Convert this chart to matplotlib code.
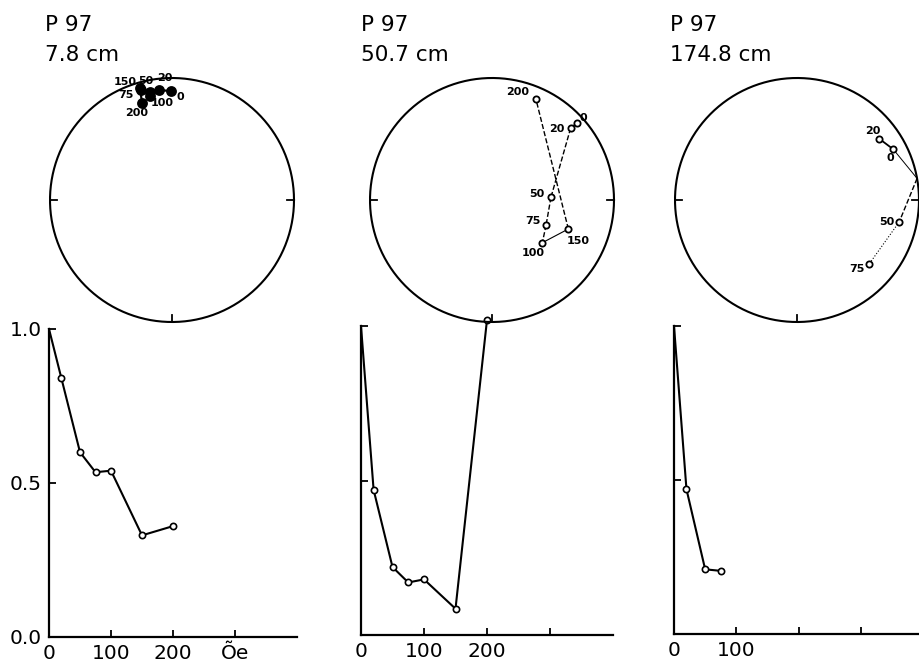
import numpy as np
import matplotlib
matplotlib.use("Agg")
import matplotlib.pyplot as plt

plt.rcParams['font.family'] = ['DejaVu Sans']

# ---- data -------------------------------------------------------------
core_name = "P 97"
depths = ["7.8 cm", "50.7 cm", "174.8 cm"]

# demagnetisation steps (Oe) and normalised intensity J/J0
fields_1 = [0, 20, 50, 75, 100, 150, 200]
inten_1 = [1.0, 0.84, 0.60, 0.535, 0.54, 0.33, 0.36]
fields_2 = [0, 20, 50, 75, 100, 150, 200]
inten_2 = [1.0, 0.47, 0.22, 0.17, 0.18, 0.085, 1.02]
fields_3 = [0, 20, 50, 75]
inten_3 = [1.0, 0.47, 0.21, 0.205]

# stereonet directions along the plotted path (declination, inclination in deg)
# label None = vertex where the path crosses the primitive
st_labels_1 = ["0", "20", "50", "75", "100", "150", "200"]
dec_1 = [359.5, 353.2, 348.5, 344.3, 348.1, 344.1, 342.8]
inc_1 = [11.7, 10.1, 10.6, 7.0, 14.0, 5.1, 17.9]

st_labels_2 = ["0", "20", "50", "75", "100", "150", "200"]
dec_2 = [47.8, 47.6, 87.4, 114.8, 130.3, 110.8, 23.6]
inc_2 = [-7.1, -13.8, -50.0, -49.6, -45.0, -33.5, -10.9]

st_labels_3 = ["20", "0", None, "50", "75"]
dec_3 = [53.5, 62.2, 79.8, 102.1, 131.8]
inc_3 = [-17.0, -11.8, 0.0, -15.4, -22.0]

# ---- styling ----------------------------------------------------------
seg_styles = [
    ['-', '-', '-', '-', '-', '-'],
    ['-', '--', '--', '--', '-', '--'],
    ['-', '-', '--', ':'],
]
seg_widths = [
    [1.6, 1.6, 1.6, 1.6, 1.6, 1.6],
    [1.2, 1.0, 1.0, 1.0, 0.8, 1.0],
    [1.3, 0.7, 1.0, 0.8],
]
# label offsets in pixels (dx, dy) from the point
lab_off = [
    {"0": (9, -6), "20": (6, 12), "50": (-4, 11), "75": (-15, -5),
     "100": (12, -7), "150": (-15, 6), "200": (-5, -10)},
    {"0": (7, 5), "20": (-14, -1), "50": (-14, 3), "75": (-13, 4),
     "100": (-9, -10), "150": (10, -12), "200": (-18, 7)},
    {"20": (-7, 8), "0": (-3, -9), "50": (-12, 0), "75": (-12, -5)},
]

W, H = 919, 666
# stereonet centres (px) and radius
st_centres = [(172, 200), (492, 200), (797, 200)]
R = 122
# intensity plot frames: x of y-axis, px per 100 Oe, y of zero, px per unit
int_frames = [(49, 62, 637, 308), (361, 63, 635, 309), (674, 62.3, 634, 308)]
title_x = [45, 361, 670]


def schmidt(dec, inc):
    d = np.radians(dec)
    th = np.radians(90 - np.abs(inc))
    r = np.sqrt(2) * np.sin(th / 2)
    return r * np.sin(d), r * np.cos(d)


fig = plt.figure(figsize=(W / 100, H / 100), dpi=100)

stereo = [(st_labels_1, dec_1, inc_1), (st_labels_2, dec_2, inc_2),
          (st_labels_3, dec_3, inc_3)]
curves = [(fields_1, inten_1), (fields_2, inten_2), (fields_3, inten_3)]

for i in range(3):
    # ---------- intensity decay ----------
    x0, sx, y0, sy = int_frames[i]
    ax = fig.add_axes([x0 / W, (H - y0) / H, 4 * sx / W, sy / H])
    f, v = curves[i]
    ax.plot(f, v, color='black', lw=1.5, marker='o', ms=4.5, mfc='white',
            mew=1.2, markevery=list(range(1, len(f))), clip_on=False, zorder=3)
    ax.set_xlim(0, 400)
    ax.set_ylim(0, 1.0)
    for s in ['top', 'right']:
        ax.spines[s].set_visible(False)
    for s in ['left', 'bottom']:
        ax.spines[s].set_linewidth(1.6)
    ax.set_xticks([0, 100, 200, 300])
    ax.set_yticks([0, 0.5, 1.0])
    ax.tick_params(direction='in', length=5, width=1.3, labelsize=14.5, pad=5)
    if i == 0:
        ax.set_xticklabels(["0", "100", "200", "Õe"])
        ax.set_yticklabels(["0.0", "0.5", "1.0"])
    elif i == 1:
        ax.set_xticklabels(["0", "100", "200", ""])
        ax.set_yticklabels([])
    else:
        ax.set_xticklabels(["0", "100", "", ""])
        ax.set_yticklabels([])
    ax.patch.set_alpha(0)

    # ---------- stereonet ----------
    cx, cy = st_centres[i]
    half = 1.1 * R
    sa = fig.add_axes([(cx - half) / W, (H - cy - half) / H, 2 * half / W, 2 * half / H])
    sa.set_xlim(-1.1, 1.1)
    sa.set_ylim(-1.1, 1.1)
    sa.set_aspect('equal')
    sa.axis('off')
    sa.patch.set_alpha(0)
    t = np.linspace(0, 2 * np.pi, 400)
    sa.plot(np.cos(t), np.sin(t), color='black', lw=1.5)
    tl = 0.06
    sa.plot([-1, -1 + tl], [0, 0], color='black', lw=1.3)
    sa.plot([1, 1 - tl], [0, 0], color='black', lw=1.3)
    sa.plot([0, 0], [-1, -1 + tl], color='black', lw=1.3)

    labs, dd, ii = stereo[i]
    px, py = schmidt(np.array(dd), np.array(ii))
    for k in range(len(px) - 1):
        sa.plot(px[k:k + 2], py[k:k + 2], color='black',
                ls=seg_styles[i][k], lw=seg_widths[i][k])
    for k, lab in enumerate(labs):
        if lab is None:
            continue
        down = ii[k] > 0
        sa.plot(px[k], py[k], marker='o', ms=6.5 if down else 4.5,
                mfc='black' if down else 'white', mec='black', mew=1.3, zorder=4)
        dx, dy = lab_off[i][lab]
        sa.annotate(lab, (px[k], py[k]), xytext=(dx, dy), textcoords='offset pixels',
                    ha='center', va='center', fontsize=8, fontweight='bold', zorder=5)

    # ---------- titles ----------
    fig.text(title_x[i] / W, 1 - 25 / H, core_name, fontsize=15.5, ha='left', va='center')
    fig.text(title_x[i] / W, 1 - 55 / H, depths[i], fontsize=15.5, ha='left', va='center')

fig.savefig("out.png", dpi=100)
